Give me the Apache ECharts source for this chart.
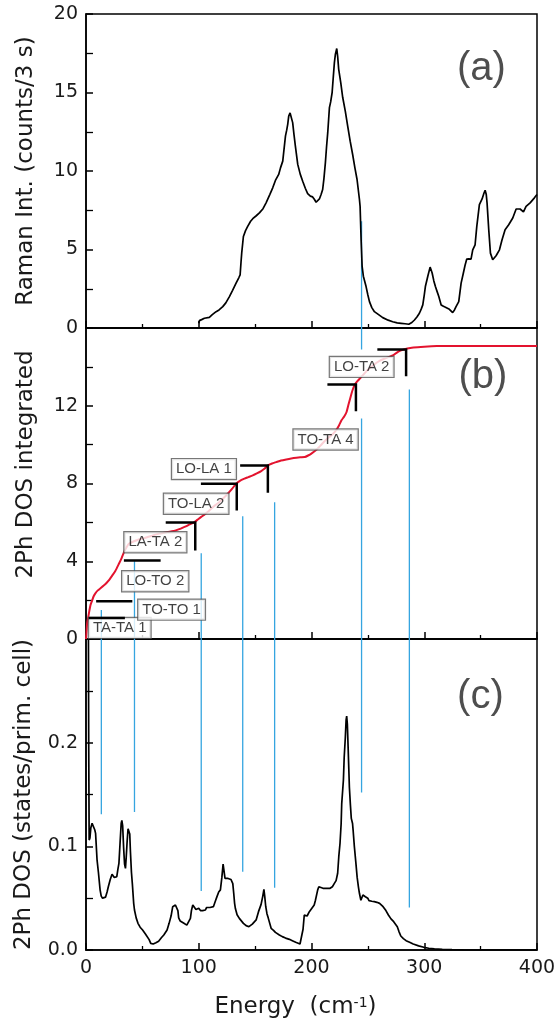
<!DOCTYPE html>
<html>
<head>
<meta charset="utf-8">
<script src="https://cdn.jsdelivr.net/npm/echarts@6/dist/echarts.min.js"></script>
<style>html,body{margin:0;padding:0;background:#fff}#c{width:554px;height:1030px}</style>
</head>
<body>
<div id="c"></div>
<script>
// ---------- Panel (a): Raman intensity ----------
const ramanEnergy = [
  100, 100.6, 103, 105, 109.4, 112, 115.4, 118, 121.3, 124,
  127.2, 130, 133.1, 135.5, 136.7, 137.5, 138.1, 139.6, 141.5, 143.4,
  146, 147.9, 151, 153.8, 157, 159.7, 163, 165.6, 168, 170.9,
  172.5, 174.5, 175.5, 176.9, 178, 178.9, 179.8, 181, 181.9, 183.3,
  184.5, 185.7, 187.8, 190, 192.2, 194.5, 196.6, 199, 201, 202.5,
  204.1, 205.5, 207, 208.5, 209.9, 211, 212.3, 213.3, 214.4, 215.2,
  215.9, 217, 218.3, 219.4, 220.3, 221.2, 222.4, 223.2, 224.1, 226,
  227.7, 230, 232.1, 234.3, 236.5, 238.5, 240.4, 242.5, 243.1, 244,
  244.9, 246, 248.4, 250, 251.4, 253.5, 255.8, 259.5, 263.2, 268,
  272, 276, 279.5, 283, 286.3, 289, 291.3, 293.5, 295.7, 297.3,
  298.7, 300, 301, 303.1, 305.2, 307, 308.5, 309.9, 311.5, 312.9,
  315, 317, 318.8, 320.5, 322.3, 323.8, 325.2, 326.8, 328.2, 330.6,
  332.7, 334.7, 336.2, 337.7, 339.5, 341.5, 343, 345.1, 346.6, 348.9,
  351.3, 353, 354, 355, 355.7, 357.2, 358.7, 360.7, 362, 363.7,
  366.7, 369, 371.7, 374.9, 378.5, 381.5, 385, 388, 390.3, 393.9,
  397.7, 400
];
const ramanIntensity = [
  0.3, 0.47, 0.55, 0.62, 0.68, 0.85, 1.04, 1.15, 1.36, 1.6,
  2.0, 2.4, 2.86, 3.2, 3.39, 4.2, 4.77, 5.83, 6.2, 6.47,
  6.8, 6.96, 7.15, 7.33, 7.6, 7.97, 8.5, 8.93, 9.4, 9.78,
  10.2, 10.63, 11.3, 12.22, 12.6, 12.97, 13.5, 13.7, 13.82, 13.08,
  12.3, 11.59, 10.42, 9.8, 9.35, 8.9, 8.56, 8.4, 8.35, 8.2,
  8.01, 8.05, 8.22, 8.5, 8.82, 9.5, 10.52, 11.5, 12.44, 13.3,
  14.04, 14.4, 15.0, 16.06, 16.9, 17.44, 17.8, 17.3, 16.49, 15.6,
  14.68, 13.8, 12.86, 11.9, 11.05, 10.2, 9.46, 8.2, 7.75, 5.62,
  3.92, 3.3, 2.64, 2.1, 1.68, 1.3, 1.04, 0.85, 0.66, 0.5,
  0.4, 0.33, 0.3, 0.27, 0.24, 0.35, 0.51, 0.7, 0.94, 1.2,
  1.47, 2.1, 2.64, 3.28, 3.88, 3.5, 3.0, 2.64, 2.3, 2.0,
  1.47, 1.38, 1.32, 1.25, 1.19, 1.08, 0.98, 1.15, 1.36, 1.68,
  2.86, 3.5, 4.0, 4.39, 4.4, 4.39, 4.98, 5.3, 6.47, 7.86,
  8.22, 8.6, 8.77, 8.5, 7.97, 6.26, 4.77, 4.35, 4.45, 4.6,
  4.98, 5.62, 6.26, 6.58, 7.01, 7.58, 7.58, 7.39, 7.75, 7.97,
  8.29, 8.5
];

// ---------- Panel (b): integrated 2-phonon DOS ----------
const intEnergy = [
  0, 0.5, 1, 1.9, 3, 4, 5.4, 6.8, 8.3, 10.5,
  12.8, 15, 17.3, 20, 23.2, 26, 29.2, 31.5, 33.6, 36,
  38, 45, 52, 58.9, 65, 72, 79.6, 84, 88.5, 92,
  95.9, 99, 101.9, 105, 107.8, 111, 115, 118.2, 122, 125.7,
  129.5, 133.1, 136.5, 140.5, 144, 147.9, 151.5, 155.4, 158.5, 161.3,
  165, 168.7, 173, 177.6, 182, 186.6, 190, 194, 197, 199.9,
  204.4, 208, 212, 216, 219, 222.2, 224.5, 226.6, 229, 231.1,
  233, 235.5, 237, 238.5, 240.5, 242.9, 246, 250, 255, 260,
  265, 272.6, 276, 280, 285, 290.4, 300, 311.2, 330, 355.8,
  400
];
const intValue = [
  0, 0.4, 0.8, 1.1, 1.46, 1.75, 1.97, 2.2, 2.35, 2.5,
  2.61, 2.72, 2.83, 3.0, 3.26, 3.5, 3.87, 4.15, 4.46, 4.72,
  4.9, 5.08, 5.2, 5.32, 5.42, 5.5, 5.58, 5.68, 5.79, 5.9,
  6.0, 6.14, 6.27, 6.4, 6.53, 6.7, 6.9, 7.04, 7.25, 7.47,
  7.72, 7.99, 8.14, 8.25, 8.33, 8.42, 8.52, 8.64, 8.77, 8.93,
  9.03, 9.1, 9.18, 9.24, 9.29, 9.33, 9.35, 9.36, 9.44, 9.54,
  9.74, 9.95, 10.2, 10.4, 10.55, 10.77, 11.0, 11.25, 11.45, 11.68,
  12.1, 12.63, 12.9, 13.09, 13.25, 13.4, 13.6, 13.85, 14.1, 14.3,
  14.43, 14.6, 14.75, 14.86, 14.95, 15.0, 15.04, 15.07, 15.08, 15.08,
  15.08
];

// ---------- Panel (c): 2-phonon DOS ----------
const dosEnergy = [
  1.8, 2.4, 2.8, 3.5, 4.3, 5.4, 6.5, 7.75, 8.5, 9.8,
  11, 12.5, 13.5, 14.7, 15.7, 17.3, 18.7, 19.8, 21.5, 23.1,
  24, 25.1, 26.1, 27.3, 28.3, 29.2, 30.2, 31.2, 31.8, 32.5,
  33.4, 34.2, 35, 35.7, 36.5, 37.3, 38, 38.8, 39.4, 40.3,
  41.1, 42.3, 43, 44.5, 46.1, 48, 50.2, 52.7, 54.3, 56,
  57.4, 58.6, 59.6, 62, 64.4, 67, 69, 71.9, 73.7, 75.5,
  76.9, 78, 79.3, 80.5, 81.5, 82.2, 83.5, 84.7, 86.5, 88.2,
  89.4, 91, 92.6, 93.5, 94.7, 96.3, 97.5, 98.8, 100, 101.5,
  103.5, 105.9, 107, 108.2, 110, 113, 115, 116, 117.7, 119.2,
  120.5, 121.6, 122.2, 123.3, 124.5, 126, 128.6, 130.2, 131, 131.8,
  132.5, 134, 136, 139.6, 142, 144.5, 147.5, 150.9, 153, 155.3,
  156.8, 157.8, 158.5, 159.4, 160.5, 161.6, 164.2, 166.3, 168, 171.5,
  174.1, 177, 180.4, 183, 186, 189.8, 191.5, 192.5, 193.6, 195,
  196.1, 198.1, 199.2, 202.4, 203.5, 205.5, 206.5, 207.1, 210.2, 212.9,
  214, 216.5, 218.5, 220.3, 221.8, 223.2, 224.2, 225.3, 226.3, 226.8,
  228.3, 229, 230, 230.7, 231.2, 231.8, 232.5, 233.6, 234.5, 235.3,
  236.4, 236.9, 238, 239.4, 240.5, 241.6, 242.5, 243.8, 244.6, 245.6,
  246.3, 247.8, 249.9, 251, 253.5, 255.7, 258, 260.4, 262, 263.5,
  266, 268.2, 270.5, 272.9, 276.1, 277.5, 279.2, 281.5, 283.9, 287,
  290.2, 295, 299.6, 304, 309, 316, 324.7, 335, 343.5, 400
];
const dosValue = [
  0.45, 0.2, 0.106, 0.108, 0.118, 0.1222, 0.122, 0.116, 0.1125, 0.087,
  0.075, 0.058, 0.052, 0.05, 0.05, 0.051, 0.056, 0.061, 0.068, 0.073,
  0.0725, 0.07, 0.07, 0.0707, 0.078, 0.0836, 0.103, 0.122, 0.125, 0.12,
  0.098, 0.083, 0.0787, 0.09, 0.105, 0.117, 0.117, 0.112, 0.095, 0.075,
  0.064, 0.045, 0.0386, 0.031, 0.0257, 0.022, 0.0193, 0.0155, 0.0145, 0.01,
  0.0064, 0.0058, 0.0058, 0.007, 0.0085, 0.012, 0.0145, 0.0193, 0.0257, 0.033,
  0.0418, 0.0435, 0.0434, 0.042, 0.038, 0.031, 0.028, 0.0273, 0.026, 0.0257,
  0.024, 0.0255, 0.0305, 0.038, 0.0434, 0.042, 0.039, 0.0386, 0.0402, 0.038,
  0.038, 0.0386, 0.041, 0.042, 0.041, 0.0418, 0.048, 0.051, 0.056, 0.058,
  0.07, 0.0829, 0.083, 0.069, 0.0707, 0.069, 0.068, 0.064, 0.055, 0.045,
  0.04, 0.034, 0.0305, 0.0257, 0.0235, 0.0225, 0.025, 0.029, 0.037, 0.044,
  0.052, 0.0585, 0.052, 0.042, 0.035, 0.031, 0.0209, 0.019, 0.017, 0.0145,
  0.0129, 0.0115, 0.0103, 0.009, 0.0075, 0.0058, 0.0048, 0.02, 0.0338, 0.034,
  0.0328, 0.037, 0.038, 0.0434, 0.048, 0.058, 0.061, 0.0604, 0.0595, 0.0595,
  0.0588, 0.0595, 0.061, 0.0643, 0.0669, 0.074, 0.09, 0.103, 0.122, 0.141,
  0.164, 0.186, 0.205, 0.222, 0.2256, 0.218, 0.195, 0.157, 0.14, 0.127,
  0.122, 0.1157, 0.1, 0.0836, 0.07, 0.061, 0.0547, 0.048, 0.0466, 0.053,
  0.054, 0.0514, 0.05, 0.0476, 0.047, 0.0466, 0.046, 0.045, 0.044, 0.0418,
  0.038, 0.0338, 0.03, 0.0273, 0.0225, 0.018, 0.0135, 0.011, 0.009, 0.0075,
  0.0058, 0.004, 0.0026, 0.0017, 0.001, 0.0006, 0.0003, 0.0001, 0, 0
];

// ---------- Annotations in panel (b) ----------
const labelNames = ['TA-TA 1', 'TO-TO 1', 'LO-TO 2', 'LA-TA 2', 'TO-LA 2', 'LO-LA 1', 'TO-TA 4', 'LO-TA 2'];
const labelX = [29.9, 75.9, 61.4, 61.5, 97.7, 104.6, 212.5, 244.5];
const labelY = [0.57, 1.51, 2.97, 4.98, 6.96, 8.74, 10.26, 14.0];
const markerY = [1.08, 1.94, 4.04, 6.0, 7.99, 8.93, 13.09, 14.9];
const markerStart = [2.4, 9.0, 33.6, 70.7, 101.9, 136.7, 214.1, 258.4];
const markerEnd = [34.5, 41.1, 66.2, 96.9, 133.7, 161.3, 239.4, 283.9];
const markerDrop = [null, null, null, 4.55, 6.61, 7.53, 11.72, 13.52];

// ---------- Vertical guide lines ----------
const guideEnergy = [13.6, 43.0, 102.2, 139.0, 167.3, 244.4, 286.8];
const guideTopB = [1.49, 4.04, 4.41, 6.32, 7.04, 11.34, 12.83];
const guideBottomC = [0.131, 0.133, 0.057, 0.0755, 0.060, 0.152, 0.041];
const guideA = {energy: 244.4, top: 6.8};
const guideBUpper = {energy: 244.4, from: 16, to: 14.9};

// ---------- Panel tags ----------
const panelTags = ['(a)', '(b)', '(c)'];
const tagX = [350.7, 352, 349.8];
const tagY = [16.5, 13.47, 0.244];

// ---------- Axes ----------
const panelYMax = [20, 16, 0.3];
const panelYInterval = [5, 4, 0.1];
const panelYNames = ['Raman Int. (counts/3 s)', '2Ph DOS integrated', '2Ph DOS (states/prim. cell)'];

const zip = (xs, ys) => xs.map((x, i) => [x, ys[i]]);
const TEXT = '#1a1a1a';
const AXF = 'DejaVu Sans';
const BLUE = '#35a5e0';

const grids = [
  {top: 14, height: 314},
  {top: 328, height: 311},
  {top: 639, height: 311}
].map(g => Object.assign(g, {
  left: 86, right: 17, show: true, borderColor: '#000', borderWidth: 1.5,
  backgroundColor: 'transparent', containLabel: false, outerBoundsMode: 'none'
}));

const xAxes = [0, 1, 2].map(i => ({
  type: 'value', gridIndex: i, min: 0, max: 400, interval: 100,
  axisLine: {show: true, onZero: false, lineStyle: {color: '#000', width: 1.5}},
  axisTick: {show: true, inside: true, length: 7, lineStyle: {color: '#000', width: 1.5}},
  minorTick: {show: true, splitNumber: 2, length: 4, lineStyle: {color: '#000', width: 1.3}},
  splitLine: {show: false}, minorSplitLine: {show: false},
  axisLabel: {show: i === 2, margin: 9, color: TEXT, fontSize: 19, fontFamily: AXF},
  name: i === 2 ? '{n|Energy  (cm}{s|-1}{n|)}' : '',
  nameLocation: 'middle', nameGap: 46,
  nameTextStyle: {
    padding: [0, 32, 0, 0],
    rich: {
      n: {fontSize: 23, fontFamily: AXF, color: TEXT},
      s: {fontSize: 14, fontFamily: AXF, color: TEXT, verticalAlign: 'top'}
    }
  }
}));

const yAxes = [0, 1, 2].map(i => ({
  type: 'value', gridIndex: i, min: 0, max: panelYMax[i], interval: panelYInterval[i],
  axisLine: {show: true, onZero: false, lineStyle: {color: '#000', width: 1.5}},
  axisTick: {show: true, inside: true, length: 7, lineStyle: {color: '#000', width: 1.5}},
  minorTick: {show: true, splitNumber: 2, length: 7, lineStyle: {color: '#000', width: 1.3}},
  splitLine: {show: false}, minorSplitLine: {show: false},
  axisLabel: {
    show: true, margin: 8, color: TEXT, fontSize: 19, fontFamily: AXF,
    showMaxLabel: i === 0, showMinLabel: true,
    formatter: v => i === 2 ? v.toFixed(1) : String(Math.round(v))
  },
  name: panelYNames[i], nameLocation: 'middle', nameGap: i === 2 ? 50 : 48,
  nameTextStyle: {fontSize: 23, fontFamily: AXF, color: TEXT, padding: i === 1 ? [0, 0, 0, 38] : 0}
}));

const series = [];
const lineDefaults = {type: 'line', showSymbol: false, symbol: 'none', animation: false, silent: true};

// guide lines (blue)
function seg(xi, pts) {
  series.push(Object.assign({}, lineDefaults, {
    xAxisIndex: xi, yAxisIndex: xi, data: pts, z: 1,
    lineStyle: {color: BLUE, width: 1.3}
  }));
}
seg(0, [[guideA.energy, guideA.top], [guideA.energy, 0]]);
seg(1, [[guideBUpper.energy, guideBUpper.from], [guideBUpper.energy, guideBUpper.to]]);
guideEnergy.forEach((e, i) => {
  seg(1, [[e, guideTopB[i]], [e, 0]]);
  seg(2, [[e, panelYMax[2]], [e, guideBottomC[i]]]);
});

// curves
series.push(Object.assign({}, lineDefaults, {
  xAxisIndex: 0, yAxisIndex: 0, data: zip(ramanEnergy, ramanIntensity), z: 3,
  lineStyle: {color: '#000', width: 1.7}
}));
series.push(Object.assign({}, lineDefaults, {
  xAxisIndex: 1, yAxisIndex: 1, data: zip(intEnergy, intValue), z: 3, smooth: 0.2,
  lineStyle: {color: '#e3132e', width: 2}
}));
series.push(Object.assign({}, lineDefaults, {
  xAxisIndex: 2, yAxisIndex: 2, data: zip(dosEnergy, dosValue), z: 3,
  lineStyle: {color: '#000', width: 1.7}
}));

// threshold markers (black)
markerY.forEach((y, i) => {
  const pts = [[markerStart[i], y], [markerEnd[i], y]];
  if (markerDrop[i] !== null) pts.push([markerEnd[i], markerDrop[i]]);
  series.push(Object.assign({}, lineDefaults, {
    xAxisIndex: 1, yAxisIndex: 1, data: pts, z: 11,
    lineStyle: {color: '#000', width: 2.5, join: 'miter', cap: 'butt'}
  }));
});

// boxed labels
series.push({
  type: 'scatter', xAxisIndex: 1, yAxisIndex: 1, z: 10, silent: true, animation: false,
  symbol: 'rect', symbolSize: 1, itemStyle: {color: 'rgba(0,0,0,0)'},
  data: labelNames.map((n, i) => ({name: n, value: [labelX[i], labelY[i]]})),
  label: {
    show: true, position: 'inside', formatter: '{b}',
    fontSize: 15, fontFamily: 'Liberation Sans', color: '#111',
    backgroundColor: '#fff', borderColor: '#555', borderWidth: 1.2,
    padding: [3, 4, 2, 4]
  }
});

// panel tags
panelTags.forEach((t, i) => {
  series.push({
    type: 'scatter', xAxisIndex: i, yAxisIndex: i, z: 10, silent: true, animation: false,
    symbol: 'rect', symbolSize: 1, itemStyle: {color: 'rgba(0,0,0,0)'},
    data: [{name: t, value: [tagX[i], tagY[i]]}],
    label: {show: true, position: 'inside', formatter: '{b}', fontSize: 40, fontFamily: 'Liberation Sans', color: '#222'}
  });
});

const chart = echarts.init(document.getElementById('c'), null, {renderer: 'canvas'});
chart.setOption({
  animation: false,
  backgroundColor: '#fff',
  grid: grids,
  xAxis: xAxes,
  yAxis: yAxes,
  series: series
});
</script>
</body>
</html>
